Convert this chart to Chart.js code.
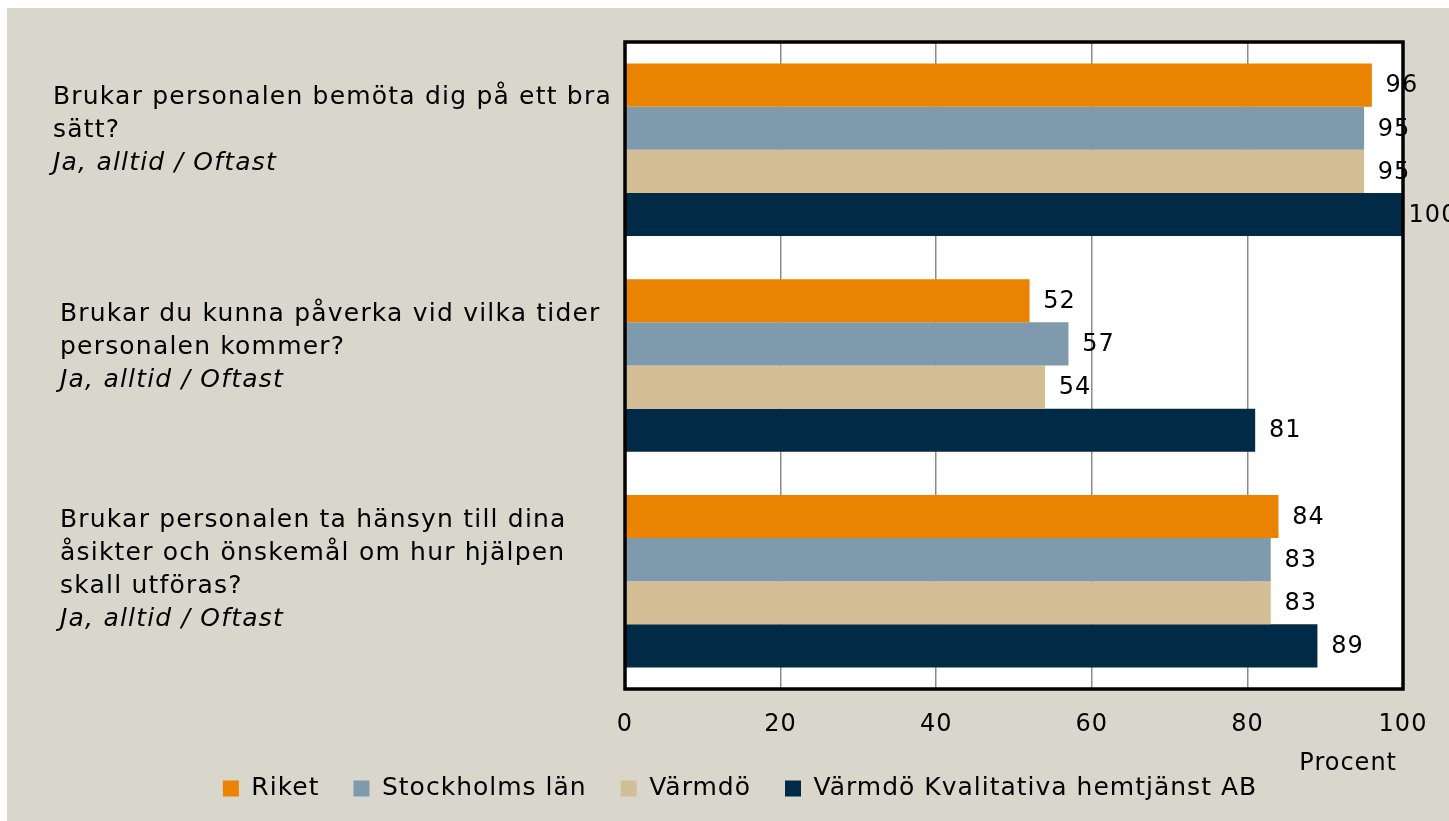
<!DOCTYPE html>
<html><head><meta charset="utf-8">
<script src="https://cdn.jsdelivr.net/npm/chart.js@4"></script>
<style>
html,body{margin:0;padding:0;background:#fff;}
#wrap{position:absolute;left:7px;top:8px;width:1442px;height:813px;background:#d9d7cb;}
canvas{display:block;}
</style></head><body>
<div id="wrap"><canvas id="c" width="1442" height="813"></canvas></div>
<script>
const categories = ["q1", "q2", "q3"];
const questionLines = [
  ["Brukar personalen bemöta dig på ett bra", "sätt?"],
  ["Brukar du kunna påverka vid vilka tider", "personalen kommer?"],
  ["Brukar personalen ta hänsyn till dina", "åsikter och önskemål om hur hjälpen", "skall utföras?"]
];
const answerLabel = "Ja, alltid / Oftast";
const seriesNames = ["Riket", "Stockholms län", "Värmdö", "Värmdö Kvalitativa hemtjänst AB"];
const riket = [96, 52, 84];
const stockholm = [95, 57, 83];
const varmdo = [95, 54, 83];
const kvalitativa = [100, 81, 89];
const xTicks = [0, 20, 40, 60, 80, 100];
const axisTitle = "Procent";

const colors = ["#E98300", "#7F9AAC", "#D3BE96", "#002A45"];
const FONT = "'DejaVu Sans', sans-serif";

const spacing = {
  id: 'spacing',
  beforeLayout(chart) { chart.ctx.letterSpacing = '1px'; },
  beforeDraw(chart) { chart.ctx.letterSpacing = '1px'; }
};

const decor = {
  id: 'decor',
  beforeDraw(chart) {
    const a = chart.chartArea, ctx = chart.ctx;
    ctx.save();
    ctx.fillStyle = '#ffffff';
    ctx.fillRect(a.left, a.top, a.right - a.left, a.bottom - a.top);
    ctx.restore();
  },
  afterDatasetsDraw(chart) {
    const a = chart.chartArea, ctx = chart.ctx;
    ctx.save();
    ctx.strokeStyle = '#000';
    ctx.lineWidth = 3.5;
    ctx.strokeRect(a.left, a.top, a.right - a.left, a.bottom - a.top);
    // data labels
    ctx.fillStyle = '#000';
    ctx.font = "24px " + FONT;
    ctx.textAlign = 'center';
    ctx.textBaseline = 'middle';
    chart.data.datasets.forEach((ds, di) => {
      const meta = chart.getDatasetMeta(di);
      meta.data.forEach((bar, i) => {
        ctx.fillText(String(ds.data[i]), bar.x + 30, bar.y + 1);
      });
    });
    // axis title
    ctx.font = "24px " + FONT;
    ctx.textAlign = 'right';
    ctx.fillText(axisTitle, a.right - 6, a.bottom + 75);
    // category labels
    const ys = chart.scales.y;
    const lh = 33;
    const xs = [46, 53, 53];
    const dy = [-19, -18, -11];
    ctx.letterSpacing = '1.2px';
    questionLines.forEach((lines, i) => {
      const all = lines.length + 1;
      const cy = ys.getPixelForValue(i) + dy[i];
      const y0 = cy - (all - 1) * lh / 2;
      ctx.textAlign = 'left';
      ctx.font = "25px " + FONT;
      lines.forEach((t, k) => ctx.fillText(t, xs[i], y0 + k * lh));
      ctx.font = "italic 25px " + FONT;
      ctx.fillText(answerLabel, xs[i], y0 + lines.length * lh);
    });
    ctx.restore();
  }
};

const datasets = [riket, stockholm, varmdo, kvalitativa].map((d, i) => ({
  label: seriesNames[i], data: d, backgroundColor: colors[i],
  categoryPercentage: 0.8, barPercentage: 1.0, borderWidth: 0
}));

new Chart(document.getElementById('c'), {
  type: 'bar',
  data: { labels: categories, datasets },
  plugins: [spacing, decor],
  options: {
    indexAxis: 'y',
    responsive: false,
    animation: false,
    layout: { padding: { left: 70, right: 46, top: 34, bottom: 10 } },
    plugins: {
      tooltip: { enabled: false },
      legend: {
        position: 'bottom',
        labels: {
          boxWidth: 16, boxHeight: 16, padding: 34, color: '#000',
          font: { size: 25, family: FONT }
        }
      }
    },
    scales: {
      y: {
        ticks: { display: false },
        grid: { display: false },
        border: { display: false },
        afterFit(s) { s.width = 548; }
      },
      x: {
        min: 0, max: 100,
        afterBuildTicks(s) { s.ticks = xTicks.map(v => ({ value: v })); },
        afterFit(s) { s.height = 53; },
        ticks: { color: '#000', font: { size: 24, family: FONT }, padding: 21 },
        grid: { color: '#8c8c8c', lineWidth: 1.5, drawTicks: false },
        border: { display: false }
      }
    }
  }
});
</script>
</body></html>
